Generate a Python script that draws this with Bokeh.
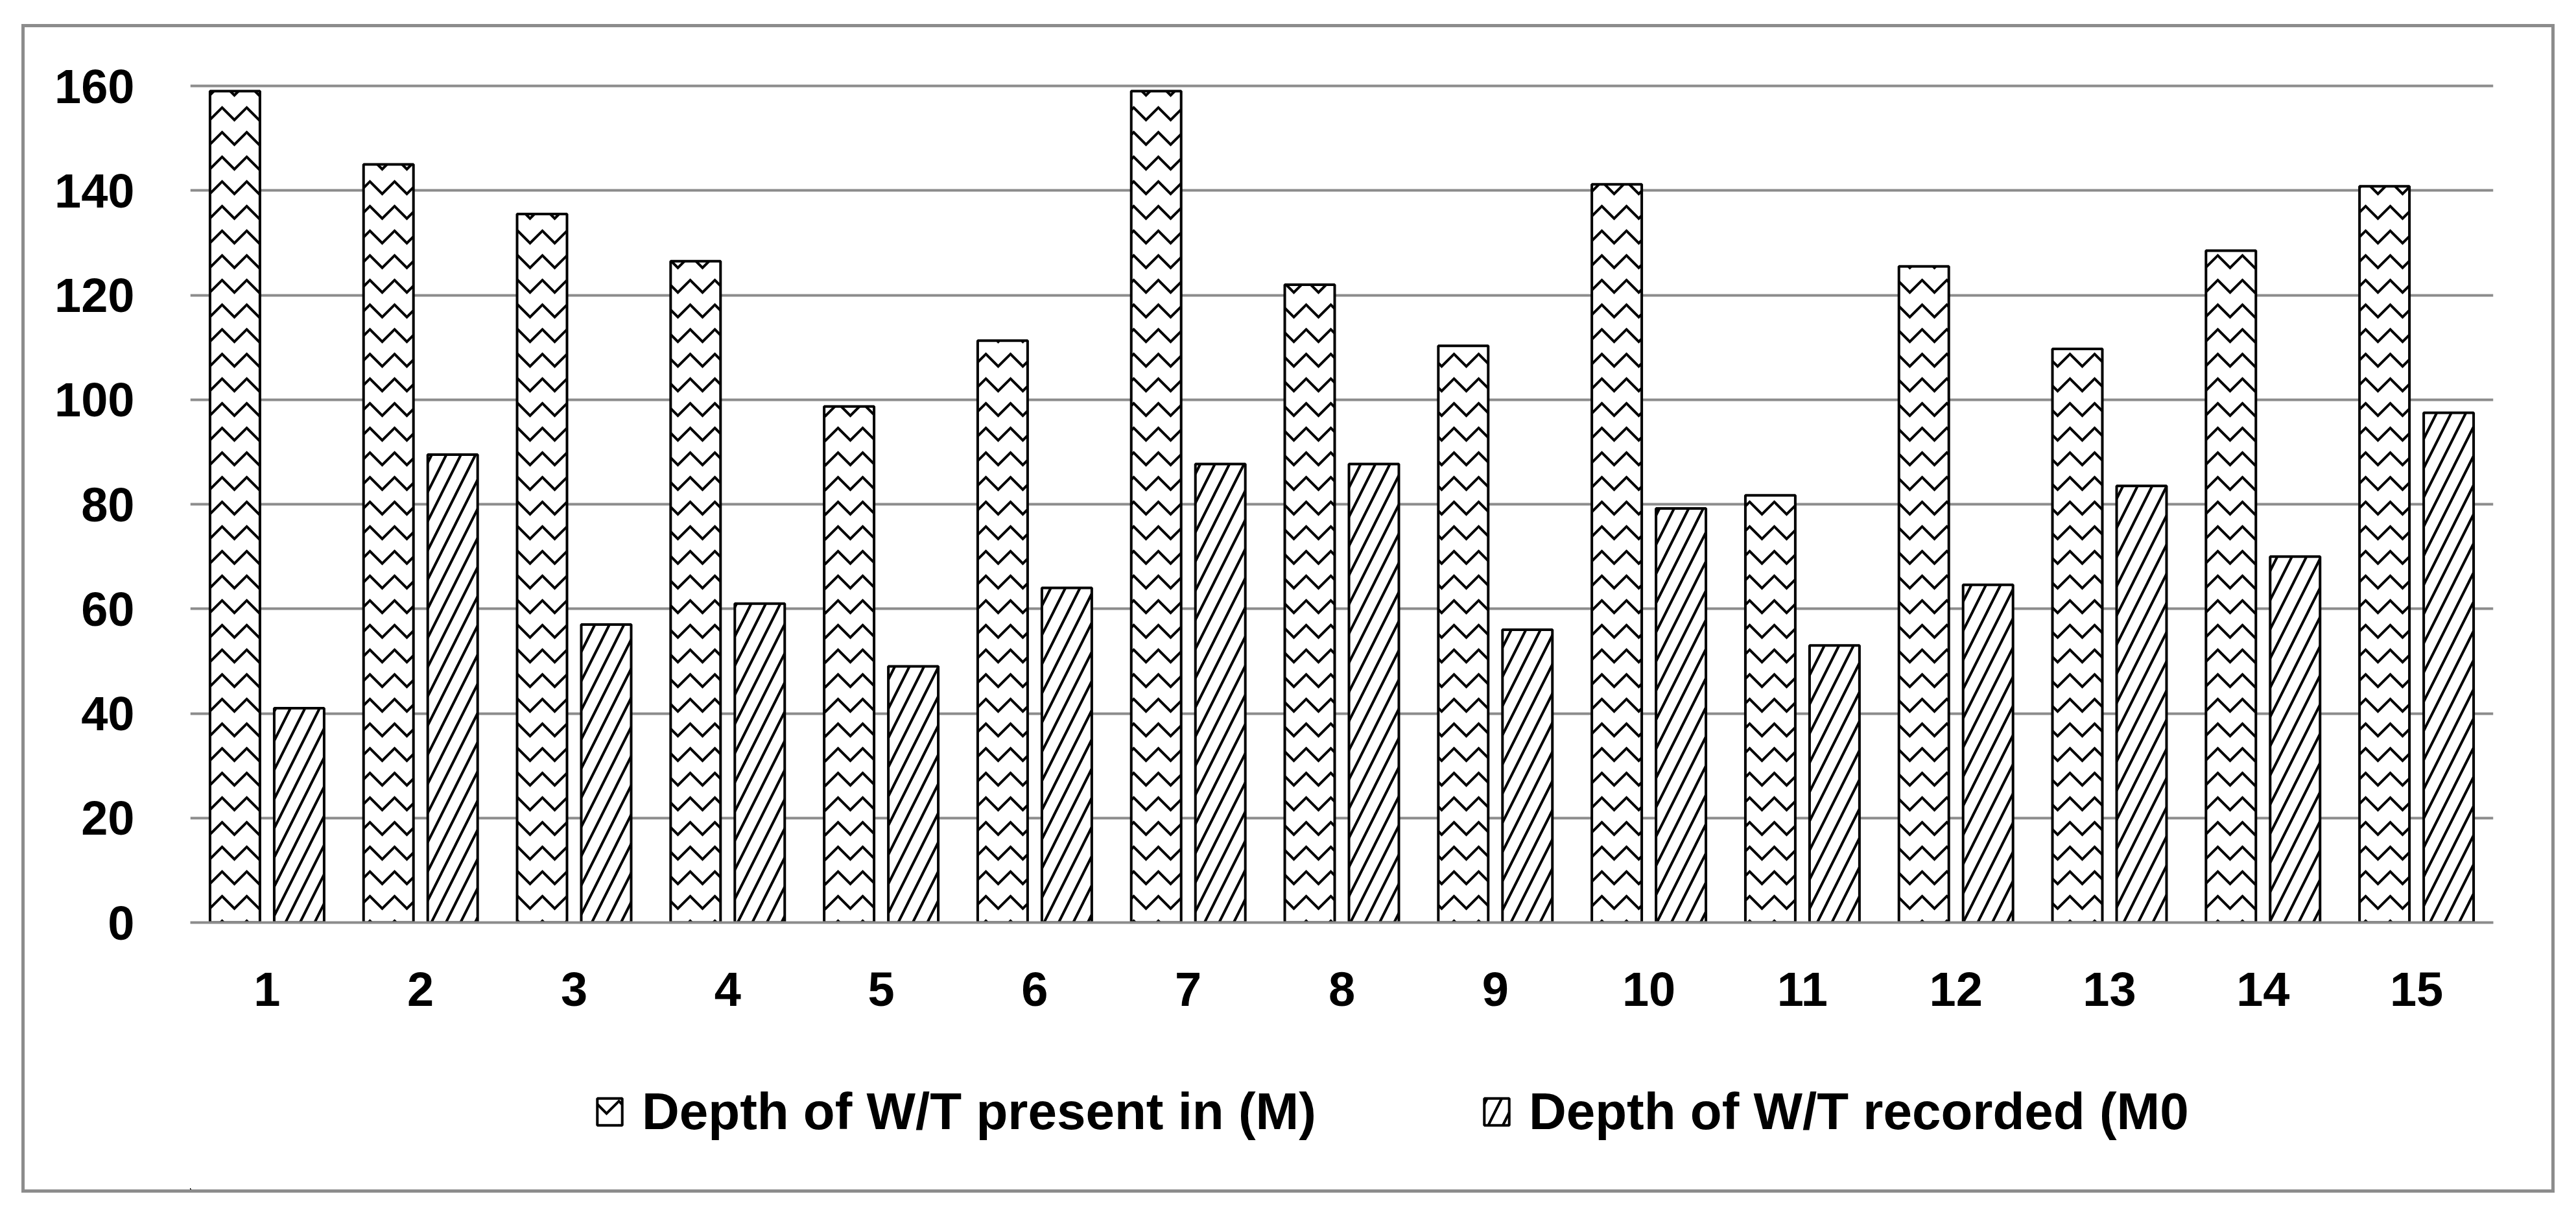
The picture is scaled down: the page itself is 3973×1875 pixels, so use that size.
from bokeh.plotting import figure
from bokeh.layouts import column
from bokeh.models import FactorRange, Range1d, FixedTicker, Legend, LegendItem, ColumnDataSource
from bokeh.transform import dodge
from bokeh.embed import file_html
from bokeh.resources import INLINE

categories = [str(i) for i in range(1, 16)]
present = [159, 145, 135.5, 126.5, 98.7, 111.3, 159, 122, 110.3, 141.2, 81.7, 125.5, 109.7, 128.5, 140.8]
recorded = [41, 89.5, 57, 61, 49, 64, 87.7, 87.7, 56, 79.2, 53, 64.6, 83.5, 70, 97.5]
y_ticks = [0, 20, 40, 60, 80, 100, 120, 140, 160]
labels = ["Depth of W/T present in (M)", "Depth of W/T recorded (M0"]

FONT = "Liberation Sans"
GRAY = "#8c8c8c"

STYLE1 = dict(fill_color="white", line_color="black", line_width=4,
              hatch_pattern="horizontal_wave", hatch_color="black", hatch_weight=4, hatch_scale=38)
STYLE2 = dict(fill_color="white", line_color="black", line_width=4,
              hatch_pattern="right_diagonal_line", hatch_color="black", hatch_weight=4, hatch_scale=45)

src = ColumnDataSource(dict(cat=categories, present=present, recorded=recorded))

p = figure(width=3897, height=1558, x_range=FactorRange(*categories, range_padding=0),
           y_range=Range1d(0, 161), output_backend="svg", toolbar_location=None,
           min_border_left=255, min_border_right=90, min_border_top=82, min_border_bottom=178)
p.outline_line_color = None
p.background_fill_color = "white"

r1 = p.vbar(x=dodge("cat", -0.209, range=p.x_range), top="present", width=0.325, source=src, **STYLE1)
r2 = p.vbar(x=dodge("cat", 0.209, range=p.x_range), top="recorded", width=0.325, source=src, **STYLE2)

p.xgrid.grid_line_color = None
p.ygrid.grid_line_color = GRAY
p.ygrid.grid_line_width = 4
p.yaxis.ticker = FixedTicker(ticks=y_ticks)

for ax in (p.xaxis, p.yaxis):
    ax.major_tick_line_color = None
    ax.minor_tick_line_color = None
    ax.major_label_text_font = FONT
    ax.major_label_text_font_style = "bold"
    ax.major_label_text_font_size = "74px"
    ax.major_label_text_color = "black"
p.yaxis.axis_line_color = None
p.yaxis.major_label_standoff = 80
p.xaxis.axis_line_color = GRAY
p.xaxis.axis_line_width = 4
p.xaxis.major_label_standoff = 70

# legend strip below the chart: same series, with ranges that keep the bars out of view
q = figure(width=3897, height=234, x_range=FactorRange(*categories, range_padding=0),
           y_range=Range1d(1000, 2000),
           x_axis_type=None, y_axis_type=None, output_backend="svg", toolbar_location=None,
           min_border=0)
q.outline_line_color = None
q.grid.grid_line_color = None
l1 = q.vbar(x=dodge("cat", -60, range=q.x_range), top="present", width=0.3, source=src, **STYLE1)
l2 = q.vbar(x=dodge("cat", -60, range=q.x_range), top="recorded", width=0.3, source=src, **STYLE2)

legend = Legend(items=[LegendItem(label=labels[0], renderers=[l1]),
                       LegendItem(label=labels[1], renderers=[l2])],
                orientation="horizontal", location=(623, 74),
                padding=0, margin=0, spacing=254, label_standoff=26,
                glyph_width=48, glyph_height=52,
                label_text_font=FONT, label_text_font_style="bold", label_text_font_size="80px",
                label_text_color="black",
                border_line_color=None, background_fill_alpha=0)
q.add_layout(legend, "center")

lay = column(p, q, spacing=0)
lay.styles = {"border": f"5px solid {GRAY}", "margin-left": "33px", "margin-top": "37px"}

open("out.html", "w").write(file_html(lay, INLINE))
